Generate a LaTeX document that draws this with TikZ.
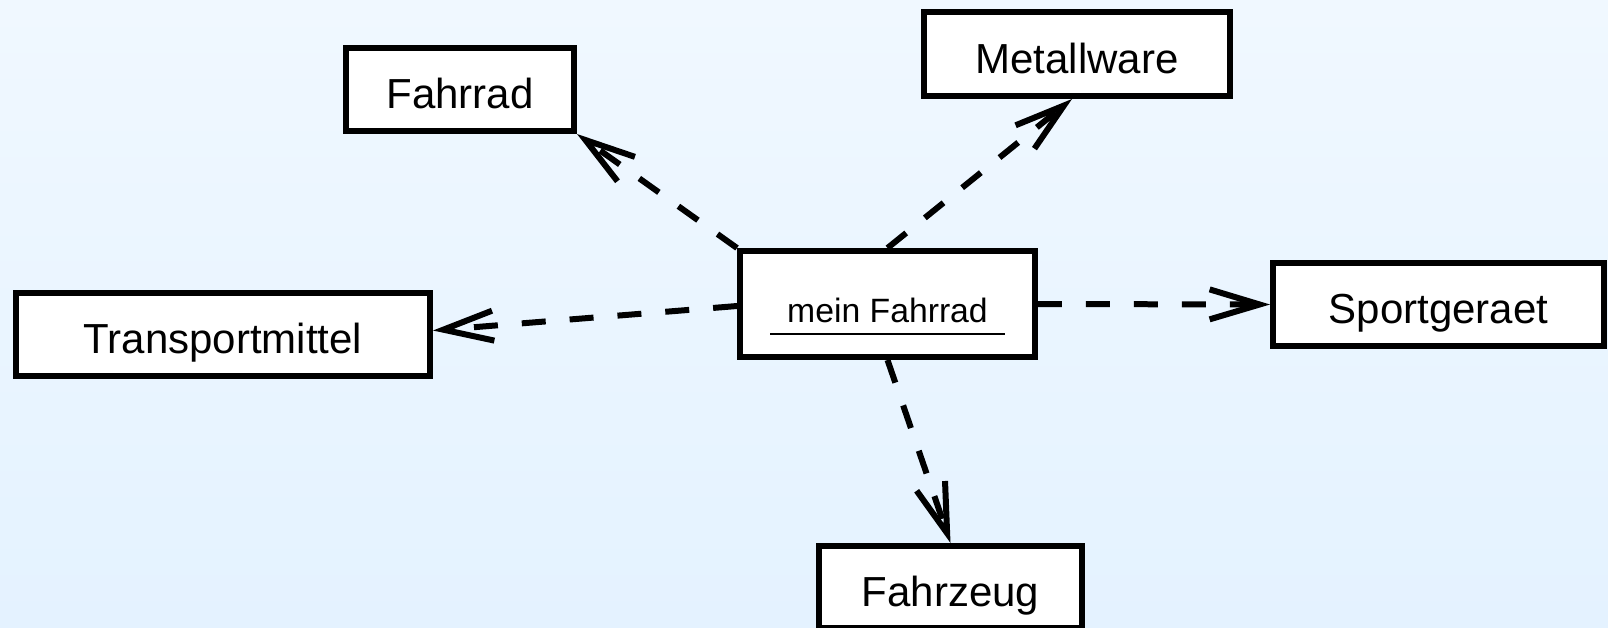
\documentclass[tikz,border=0pt]{standalone}
\usepackage{fontspec}
\setmainfont{Liberation Sans}
\usetikzlibrary{arrows.meta,calc}
\definecolor{bgtop}{RGB}{240,248,255}
\definecolor{bgbot}{RGB}{228,242,255}
\begin{document}
\begin{tikzpicture}[x=0.02cm,y=-0.02cm,
  box/.style={draw, line width=0.12cm, fill=white, inner sep=0pt,
    text height=0.8cm, text depth=0.04cm,
    font=\fontsize{23.9}{28}\selectfont},
  objbox/.style={box, text height=0.74cm, text depth=0.02cm,
    font=\fontsize{19.2}{23}\selectfont},
  dep/.style={line width=0.12cm, dash pattern=on 0.48cm off 0.48cm,
    -{Straight Barb[length=1cm,width=0.6cm]}},
  uline/.style={line width=0.05cm}]
\useasboundingbox (0,0) rectangle (1608,627);
\shade[top color=bgtop, bottom color=bgbot] (0,0) rectangle (1608,627);

\node[box, minimum width=4.56cm, minimum height=1.66cm] (fr) at (460,89.5) {Fahrrad};
\node[box, minimum width=6.12cm, minimum height=1.68cm] (mw) at (1077,54) {Metallware};
\node[box, minimum width=8.28cm, minimum height=1.66cm] (tm) at (223,334.5) {Transportmittel};
\node[objbox, minimum width=5.9cm, minimum height=2.12cm] (mf) at (887.5,304) {mein Fahrrad};
\node[box, minimum width=6.62cm, minimum height=1.66cm] (sg) at (1438.5,304.5) {Sportgeraet};
\node[box, minimum width=5.26cm, minimum height=1.64cm] (fz) at (950.5,587) {Fahrzeug};

\coordinate (ul1) at ($(mf.center)+(-117.5,30)$);
\coordinate (ul2) at ($(mf.center)+(117.5,30)$);
\draw[uline] (ul1) -- (ul2);

\draw[dep] (mf.north west) -- (fr.south east);
\draw[dep] (mf.north) -- ($(mw.south)+(-5,0)$);
\draw[dep] ($(mf.west)+(0,2)$) -- ($(tm.east)+(0,-4)$);
\draw[dep] (mf.east) -- (sg.west);
\draw[dep] (mf.south) -- (fz.north);
\end{tikzpicture}
\end{document}
